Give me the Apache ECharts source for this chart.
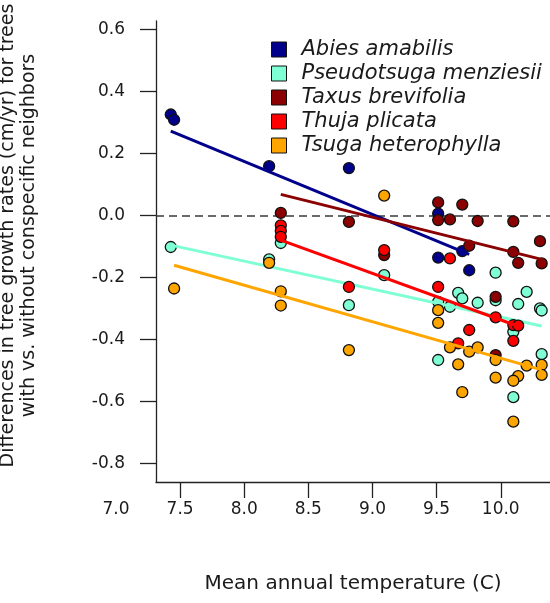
<!DOCTYPE html>
<html>
<head>
<meta charset="utf-8">
<script src="https://cdn.jsdelivr.net/npm/echarts@6/dist/echarts.min.js"></script>
<style>html,body{margin:0;padding:0;background:#fff}#c{width:550px;height:603px}</style>
</head>
<body>
<div id="c"></div>
<script>
// ---- data ----
const species = ['Abies amabilis', 'Pseudotsuga menziesii', 'Taxus brevifolia', 'Thuja plicata', 'Tsuga heterophylla'];

const abiesX = [7.427, 7.453, 8.194, 8.816, 9.512, 9.512, 9.700, 9.754];
const abiesY = [0.326, 0.309, 0.159, 0.153, 0.006, -0.136, -0.115, -0.177];

const pseudoX = [7.427, 8.194, 8.285, 9.091, 8.816, 9.960, 10.202, 9.668, 9.700, 9.820, 9.960, 10.136, 10.306, 10.319, 9.512, 9.604, 10.098, 9.512, 10.319, 10.098];
const pseudoY = [-0.102, -0.142, -0.089, -0.193, -0.290, -0.185, -0.247, -0.250, -0.268, -0.282, -0.274, -0.286, -0.300, -0.307, -0.279, -0.295, -0.376, -0.467, -0.448, -0.587];

const taxusX = [8.285, 8.816, 9.091, 9.512, 9.512, 9.604, 9.700, 9.820, 10.098, 10.306, 9.754, 10.098, 10.136, 10.319, 9.960, 9.960];
const taxusY = [0.008, -0.021, -0.128, 0.042, -0.015, -0.013, 0.035, -0.018, -0.019, -0.083, -0.098, -0.118, -0.153, -0.155, -0.263, -0.451];

const thujaX = [8.285, 8.285, 8.285, 9.091, 8.816, 9.604, 9.512, 9.960, 10.098, 10.136, 10.098, 9.754, 9.668];
const thujaY = [-0.032, -0.050, -0.069, -0.112, -0.231, -0.139, -0.231, -0.329, -0.354, -0.356, -0.405, -0.370, -0.413];

const tsugaX = [7.453, 8.194, 8.285, 8.285, 8.816, 9.091, 9.512, 9.512, 9.604, 9.754, 9.820, 9.668, 9.960, 9.960, 10.202, 10.319, 10.319, 10.136, 10.098, 9.700, 10.098];
const tsugaY = [-0.236, -0.153, -0.245, -0.291, -0.435, 0.064, -0.306, -0.347, -0.426, -0.440, -0.426, -0.481, -0.467, -0.524, -0.485, -0.483, -0.515, -0.519, -0.534, -0.571, -0.666];

// fitted trend lines (end points)
const abiesFitX = [7.427, 9.754],  abiesFitY = [0.272, -0.126];
const pseudoFitX = [7.427, 10.319], pseudoFitY = [-0.096, -0.357];
const taxusFitX = [8.285, 10.319], taxusFitY = [0.068, -0.142];
const thujaFitX = [8.285, 10.136], thujaFitY = [-0.080, -0.358];
const tsugaFitX = [7.453, 10.319], tsugaFitY = [-0.161, -0.499];

const yTicks = [-0.8, -0.6, -0.4, -0.2, 0.0, 0.2, 0.4, 0.6];
const xTicks = [7.5, 8.0, 8.5, 9.0, 9.5, 10.0];
const xLabels = [7.0, 7.5, 8.0, 8.5, 9.0, 9.5, 10.0];

// ---- style / layout ----
const colors = ['#00008B', '#7FFFD4', '#8B0000', '#FF0000', '#FFA500'];
const FONT = 'DejaVu Sans';
const W = 550, gridALeft = 156, gridBLeft = 116;
const xLabelMin = 7.0, xMax = 10.384;
const xMinA = xLabelMin + (gridALeft - gridBLeft) * (xMax - xLabelMin) / (W - gridBLeft);
const yMin = -0.861, yMax = 0.628;

const pts = [[abiesX, abiesY], [pseudoX, pseudoY], [taxusX, taxusY], [thujaX, thujaY], [tsugaX, tsugaY]];
const fits = [[abiesFitX, abiesFitY], [pseudoFitX, pseudoFitY], [taxusFitX, taxusFitY], [thujaFitX, thujaFitY], [tsugaFitX, tsugaFitY]];
const zip = (a, b) => a.map((v, i) => [v, b[i]]);

const series = [];
species.forEach((name, i) => {
  const s = {
    name: name, type: 'scatter', xAxisIndex: 0, yAxisIndex: 0,
    data: zip(pts[i][0], pts[i][1]),
    symbol: 'circle', symbolSize: 11,
    itemStyle: { color: colors[i], borderColor: '#111', borderWidth: 1.3, opacity: 1 },
    z: 3 + i * 2, silent: true
  };
  if (i === 0) {
    s.markLine = {
      silent: true, symbol: ['none', 'none'], label: { show: false },
      lineStyle: { color: '#3a3a3a', type: [8, 5], width: 1.5 },
      data: [{ yAxis: 0 }], z: 1
    };
  }
  series.push(s);
  series.push({
    name: name + ' fit', type: 'line', xAxisIndex: 0, yAxisIndex: 0,
    data: zip(fits[i][0], fits[i][1]),
    symbol: 'none', lineStyle: { color: colors[i], width: 3 },
    z: 4 + i * 2, silent: true
  });
});

const chart = echarts.init(document.getElementById('c'), null, { renderer: 'canvas' });
chart.setOption({
  animation: false,
  backgroundColor: '#fff',
  grid: [
    { left: gridALeft, right: 0, top: 21, bottom: 121, containLabel: false, outerBoundsMode: 'none' },
    { left: gridBLeft, right: 0, top: 21, bottom: 121, containLabel: false, outerBoundsMode: 'none' }
  ],
  legend: {
    data: species, orient: 'vertical', left: 266, top: 34,
    icon: 'rect', itemWidth: 15, itemHeight: 15, itemGap: 3,
    itemStyle: { borderColor: '#111', borderWidth: 1 },
    textStyle: { fontFamily: FONT, fontSize: 21, fontStyle: 'italic', color: '#1a1a1a', lineHeight: 20, padding: [0, 0, 0, 10] },
    selectedMode: false
  },
  xAxis: [
    {
      gridIndex: 0, type: 'value', min: xMinA, max: xMax,
      axisLine: { show: true, onZero: false, lineStyle: { color: '#222', width: 1.3 } },
      axisTick: { show: true, inside: false, length: 16, customValues: xTicks, lineStyle: { color: '#222', width: 1.3 } },
      axisLabel: { show: false },
      splitLine: { show: false },
      name: 'Mean annual temperature (C)', nameLocation: 'middle', nameGap: 92,
      nameTextStyle: { fontFamily: FONT, fontSize: 20, color: '#1a1a1a' }
    },
    {
      gridIndex: 1, type: 'value', min: xLabelMin, max: xMax,
      axisLine: { show: false }, axisTick: { show: false }, splitLine: { show: false },
      axisLabel: { show: true, customValues: xLabels, margin: 19, fontFamily: FONT, fontSize: 17, color: '#1a1a1a', formatter: v => v.toFixed(1) }
    }
  ],
  yAxis: [
    {
      gridIndex: 0, type: 'value', min: yMin, max: yMax,
      axisLine: { show: true, onZero: false, lineStyle: { color: '#222', width: 1.3 } },
      axisTick: { show: true, inside: false, length: 16, customValues: yTicks, lineStyle: { color: '#222', width: 1.3 } },
      axisLabel: { show: true, customValues: yTicks, margin: 31, fontFamily: FONT, fontSize: 17, color: '#1a1a1a', formatter: v => v.toFixed(1) },
      splitLine: { show: false },
      name: 'Differences in tree growth rates (cm/yr) for trees\nwith vs. without conspecific neighbors',
      nameLocation: 'middle', nameGap: 116,
      nameTextStyle: { fontFamily: FONT, fontSize: 19, color: '#1a1a1a', lineHeight: 21, padding: [0, 0, 0, 32] }
    },
    {
      gridIndex: 1, type: 'value', min: yMin, max: yMax, show: false
    }
  ],
  series: series
});
</script>
</body>
</html>
